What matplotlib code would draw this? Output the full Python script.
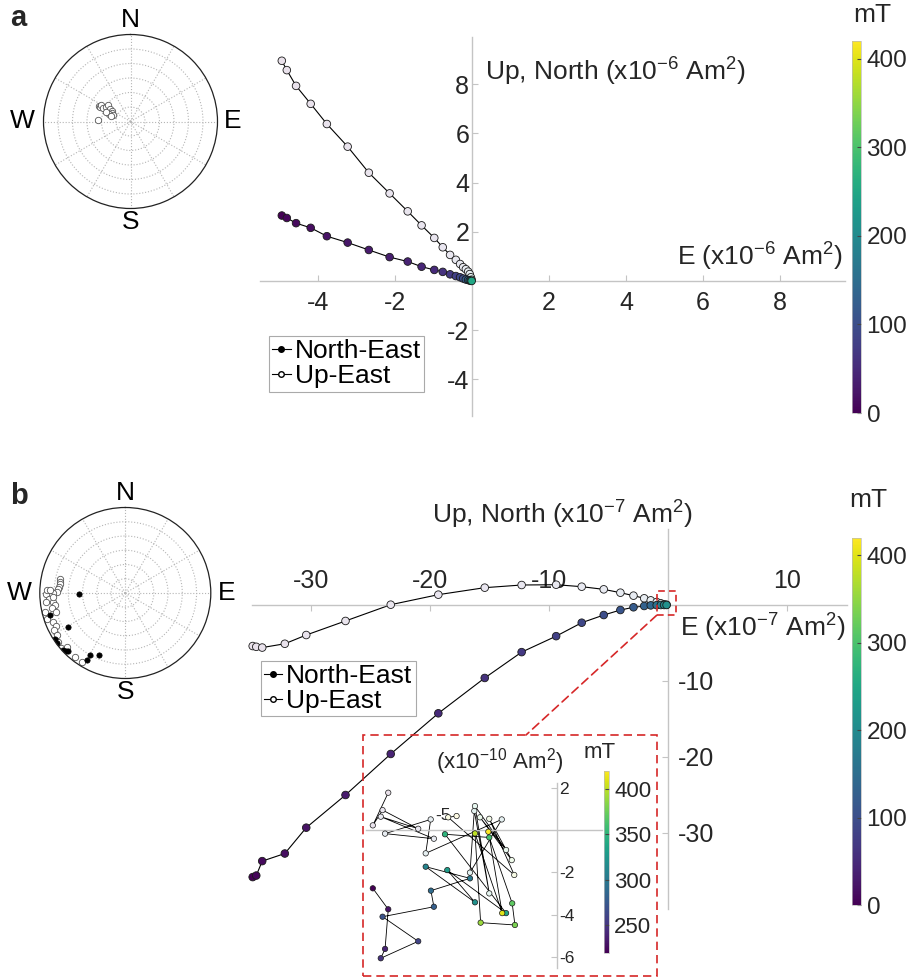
import numpy as np
import matplotlib
matplotlib.use("Agg")
import matplotlib.pyplot as plt
from matplotlib.cm import ScalarMappable
from matplotlib.colors import Normalize
from matplotlib.lines import Line2D
from matplotlib.patches import Rectangle, ConnectionPatch

plt.rcParams["font.family"] = ["Liberation Sans", "DejaVu Sans"]
plt.rcParams["axes.unicode_minus"] = False
plt.rcParams["mathtext.fontset"] = "custom"
plt.rcParams["mathtext.rm"] = "Liberation Sans"
plt.rcParams["mathtext.it"] = "Liberation Sans:italic"
plt.rcParams["mathtext.bf"] = "Liberation Sans:bold"

# ---- panel a: AF steps (mT) and vector end points (x1e-6 Am2)
a_field = [0, 5, 10, 15, 20, 25, 30, 35, 40, 45, 50, 60, 70, 80, 90, 100, 120, 140, 160, 200, 250]
a_east = [-4.94, -4.81, -4.57, -4.19, -3.77, -3.23, -2.68, -2.14, -1.67, -1.31, -0.98,
          -0.76, -0.57, -0.42, -0.31, -0.23, -0.16, -0.10, -0.06, -0.03, -0.01]
a_north = [2.66, 2.56, 2.35, 2.16, 1.82, 1.56, 1.26, 0.97, 0.79, 0.58, 0.45,
           0.37, 0.27, 0.20, 0.15, 0.10, 0.06, 0.04, 0.02, 0.01, 0.0]
a_up = [8.95, 8.57, 7.93, 7.20, 6.38, 5.46, 4.40, 3.56, 2.83, 2.26, 1.75,
        1.37, 1.06, 0.86, 0.69, 0.56, 0.48, 0.38, 0.28, 0.15, 0.05]

# panel a stereonet (declination, inclination; negative = upper hemisphere)
a_dec = [296, 295, 299, 296, 301, 307, 301, 301, 294, 290, 292, 291, 286, 272]
a_inc = [-53.5, -55, -54.8, -58.6, -60.1, -61.2, -65.1, -68.1, -68.5, -66.5, -62.5, -70.8, -68.8, -56]

# ---- panel b (x1e-7 Am2)
b_field = [0, 5, 10, 15, 20, 30, 40, 50, 60, 70, 80, 90, 100, 110, 120, 130, 140, 160, 180, 200, 210]
b_east = [-34.9, -34.6, -34.1, -32.2, -30.4, -27.1, -23.3, -19.3, -15.4, -12.3, -9.4,
          -7.25, -5.4, -4.0, -2.9, -2.0, -1.45, -0.95, -0.6, -0.33, -0.12]
b_north = [-35.8, -35.6, -33.7, -32.7, -29.3, -25.0, -19.6, -14.25, -9.6, -6.2, -4.1,
           -2.33, -1.32, -0.66, -0.3, -0.13, -0.05, -0.02, 0.0, 0.0, 0.0]
b_up = [-5.4, -5.5, -5.6, -5.1, -3.95, -2.1, 0.04, 1.36, 2.28, 2.63, 2.67,
        2.41, 2.06, 1.62, 1.23, 0.88, 0.61, 0.39, 0.22, 0.10, 0.03]

# panel b stereonet
b_dec_down = [268.8, 253.7, 239, 236.8, 234, 227.4, 226, 224.5, 209.7, 209.6, 202.7]
b_inc_down = [40.8, 7.2, 19.8, 1.4, 0.5, 1.2, 2.5, 4.2, 14.7, 8.8, 18.8]
b_dec_up = [282.1, 279.8, 277.6, 275.2, 273.1, 271.1, 269.7, 268, 269.3, 265.5, 263.7, 263.1,
            260.3, 258.7, 256.5, 251.6, 248.3, 244.6, 242.4, 238.5, 234, 229.8, 227.5, 218.3,
            212.2, 255, 272.2, 272.3, 267.1]
b_inc_up = [-19.5, -20.1, -20.5, -20.1, -19.2, -17.6, -14.1, -10.5, -7, -9.6, -6.5, -13.5,
            -14.8, -10.8, -2.8, -3.3, -8.3, -9.8, -5.1, -5.1, -2.7, -0.7, -6.1, -4.4,
            -3.6, -14.3, -7, -10.5, -14]

# ---- inset of panel b: 220-420 mT (x1e-10 Am2)
c_field = [220, 230, 240, 250, 260, 270, 280, 290, 300, 310, 320,
           330, 340, 350, 360, 370, 380, 390, 400, 410, 420]
c_ne_east = [-8.1, -7.42, -7.56, -7.75, -6.1, -7.67, -5.41, -5.54, -3.82, -5.77, -3.6,
             -4.82, -2.23, -4.92, -2.97, -1.96, -1.84, -3.35, -3.6, -2.4, -3.01]
c_ne_north = [-2.75, -3.74, -5.61, -6.05, -5.25, -4.09, -3.62, -2.86, -2.28, -1.73, -3.41,
              -1.89, -3.92, -0.2, -0.35, -3.46, -4.48, -4.37, -0.16, -3.92, -0.08]
c_ue_east = [-7.42, -8.1, -7.67, -6.1, -7.75, -5.41, -7.56, -5.55, -5.77, -2.42, -3.82,
             -3.63, -2.97, -3.6, -2.23, -3.38, -1.98, -2.97, -1.87, -4.78, -4.41]
c_ue_up = [1.76, 0.22, 0.94, 0.06, 0.63, -0.41, -0.17, 0.5, -1.1, 0.5, -2.01,
           0.9, -2.99, 1.13, -0.94, 0.6, -1.42, 0.53, -2.12, 0.6, 0.66]

W, H = 915, 977
GRAY = "#c4c4c4"
TXT = "#262626"
RED = "#d62728"
cmap = plt.get_cmap("viridis")


def box(x0, y0, x1, y1):
    return [x0 / W, 1 - y1 / H, (x1 - x0) / W, (y1 - y0) / H]


def ftext(x, y, s, **kw):
    fig.text(x / W, 1 - y / H, s, color=TXT, **kw)


def pale(field, norm):
    c = cmap(norm(np.asarray(field, dtype=float)))
    c[:, :3] = 0.88 + 0.12 * c[:, :3]
    return c


def cross_axes(ax, xside, yside, xpad, ypad, size):
    for s in ax.spines.values():
        s.set_visible(False)
    for name in (xside, yside):
        sp = ax.spines[name]
        sp.set_visible(True)
        sp.set_position(("data", 0))
        sp.set_color(GRAY)
        sp.set_linewidth(1.0)
    ax.xaxis.set_ticks_position(xside)
    ax.yaxis.set_ticks_position(yside)
    ax.tick_params(axis="x", direction="in", length=4, color=GRAY,
                   labelcolor=TXT, labelsize=size, pad=xpad)
    ax.tick_params(axis="y", direction="in", length=4, color=GRAY,
                   labelcolor=TXT, labelsize=size, pad=ypad)
    ax.patch.set_alpha(0)


def zijder(ax, east, north, up, field, norm, s, lw):
    ax.plot(east, up, color="k", lw=lw, zorder=2, clip_on=False)
    ax.plot(east, north, color="k", lw=lw, zorder=2, clip_on=False)
    ax.scatter(east, up, s=s, c=pale(field, norm), edgecolors="#1a1a1a",
               linewidths=0.6, zorder=3, clip_on=False)
    ax.scatter(east, north, s=s, c=field, cmap=cmap, norm=norm,
               edgecolors="#1a1a1a", linewidths=0.6, zorder=3, clip_on=False)


def stereonet(rect, dec_list, inc_list, filled):
    ax = fig.add_axes(rect, projection="polar")
    ax.set_theta_zero_location("N")
    ax.set_theta_direction(-1)
    ax.set_ylim(0, 90)
    ax.set_yticks([15, 30, 45, 60, 75])
    ax.set_yticklabels([])
    ax.set_xticks(np.deg2rad(np.arange(0, 360, 30)))
    ax.set_xticklabels([])
    ax.grid(True, color="#b5b5b5", linestyle=":", linewidth=0.8)
    ax.spines["polar"].set_color("#222222")
    ax.spines["polar"].set_linewidth(0.9)
    for dec, inc, fill in zip(dec_list, inc_list, filled):
        th = np.deg2rad(np.asarray(dec))
        r = 90 - np.abs(np.asarray(inc))
        if fill:
            ax.plot(th, r, "o", ms=3.8, mfc="k", mec="k", mew=0.5, ls="none")
        else:
            ax.plot(th, r, "o", ms=4.6, mfc="white", mec="#555555", mew=0.6, ls="none")
    kw = dict(transform=ax.transAxes, fontsize=19, color="k", ha="center", va="center")
    ax.text(0.5, 1.085, "N", **kw)
    ax.text(0.5, -0.08, "S", **kw)
    ax.text(-0.12, 0.5, "W", **kw)
    ax.text(1.09, 0.5, "E", **kw)
    return ax


def colorbar(rect, norm, ticks, size):
    cax = fig.add_axes(rect)
    cb = fig.colorbar(ScalarMappable(norm=norm, cmap=cmap), cax=cax)
    cb.set_ticks(ticks)
    cb.outline.set_edgecolor("#bbbbbb")
    cb.outline.set_linewidth(0.5)
    cax.tick_params(labelsize=size, length=3, direction="in", color="#444444",
                    labelcolor=TXT, pad=4)
    return cb


def legend(ax, x, y):
    handles = [Line2D([], [], color="k", lw=0.8, marker="o", ms=4, mfc="k", mec="k"),
               Line2D([], [], color="k", lw=0.8, marker="o", ms=4, mfc="white", mec="k")]
    leg = ax.legend(handles, ["North-East", "Up-East"], loc="upper left",
                    bbox_to_anchor=(x / W, 1 - y / H), bbox_transform=fig.transFigure,
                    borderaxespad=0, fontsize=19, handlelength=0.7, handletextpad=0.15,
                    borderpad=0.12, labelspacing=0.05, fancybox=False, framealpha=1)
    leg.get_frame().set_edgecolor("#aaaaaa")
    leg.get_frame().set_linewidth(0.8)


fig = plt.figure(figsize=(W / 100, H / 100), dpi=100)
norm_main = Normalize(0, 420)
norm_inset = Normalize(220, 420)

# ---------- panel a
axa = fig.add_axes(box(260.25, 37.4, 845.5, 416.3))
cross_axes(axa, "bottom", "left", 7, 2, 18)
axa.set_xlim(-5.5, 9.7)
axa.set_ylim(-5.5, 9.9)
axa.set_xticks([-4, -2, 2, 4, 6, 8])
axa.set_yticks([-4, -2, 2, 4, 6, 8])
zijder(axa, a_east, a_north, a_up, a_field, norm_main, 30, 0.8)
legend(axa, 269, 336)
ftext(485, 72, "Up, North (x10$^{-6}$ Am$^{2}$)", fontsize=19, ha="left", va="center")
ftext(677, 257, "E (x10$^{-6}$ Am$^{2}$)", fontsize=19, ha="left", va="center")
colorbar(box(852, 41, 861, 413), norm_main, [0, 100, 200, 300, 400], 17.5)
ftext(872, 15, "mT", fontsize=19, ha="center", va="center")
stereonet(box(43.5, 34.5, 217.5, 208.5), [a_dec], [a_inc], [False])
ftext(10, 18, "a", fontsize=21, fontweight="bold", ha="left", va="center")

# ---------- panel b
axb = fig.add_axes(box(251.5, 529, 846.5, 909))
cross_axes(axb, "top", "right", 9, 7, 18)
axb.set_xlim(-35, 15)
axb.set_ylim(-40, 10)
axb.set_xticks([-30, -20, -10, 10])
axb.set_yticks([-30, -20, -10])
zijder(axb, b_east, b_north, b_up, b_field, norm_main, 30, 0.8)
legend(axb, 260.7, 660.7)
ftext(432, 515, "Up, North (x10$^{-7}$ Am$^{2}$)", fontsize=19, ha="left", va="center")
ftext(680, 628, "E (x10$^{-7}$ Am$^{2}$)", fontsize=19, ha="left", va="center")
colorbar(box(852, 538, 861, 905), norm_main, [0, 100, 200, 300, 400], 17.5)
ftext(868, 500, "mT", fontsize=19, ha="center", va="center")
stereonet(box(39.8, 507.5, 210.8, 678.5), [b_dec_up, b_dec_down],
          [b_inc_up, b_inc_down], [False, True])
ftext(10, 496, "b", fontsize=21, fontweight="bold", ha="left", va="center")

# zoom marker and connector
axb.add_patch(Rectangle((-0.95, -1.35), 1.6, 3.2, fill=False, ec=RED, lw=1.2,
                        ls=(0, (4, 2.5)), clip_on=False, zorder=5))
con = ConnectionPatch(xyA=(-0.95, -1.35), coordsA="data", axesA=axb,
                      xyB=(526 / W, 1 - 735 / H), coordsB="figure fraction",
                      color=RED, lw=1.2, ls=(0, (5, 3)))
fig.add_artist(con)
fig.add_artist(Rectangle((363 / W, 1 - 976 / H), (657 - 363) / W, (976 - 735) / H,
                         transform=fig.transFigure, fill=False, ec=RED, lw=1.2,
                         ls=(0, (5, 3))))

# ---------- inset
axi = fig.add_axes(box(366, 783.4, 602.1, 967.8))
cross_axes(axi, "top", "right", 5, 2, 12.5)
axi.set_xlim(-8.4, 2.0)
axi.set_ylim(-6.5, 2.2)
axi.set_xticks([-5])
axi.set_yticks([-6, -4, -2, 2])
axi.plot(c_ue_east, c_ue_up, color="k", lw=0.6, zorder=2)
axi.plot(c_ne_east, c_ne_north, color="k", lw=0.6, zorder=2)
axi.scatter(c_ue_east, c_ue_up, s=15, c=pale(c_field, norm_inset), edgecolors="#1a1a1a",
            linewidths=0.5, zorder=3)
axi.scatter(c_ne_east, c_ne_north, s=15, c=c_field, cmap=cmap, norm=norm_inset,
            edgecolors="#1a1a1a", linewidths=0.5, zorder=3)
ftext(500, 762, "(x10$^{-10}$ Am$^{2}$)", fontsize=16, ha="center", va="center")
colorbar(box(604.3, 770.7, 608.7, 952.7), norm_inset, [250, 300, 350, 400], 16)
ftext(600, 753, "mT", fontsize=16, ha="center", va="center")

fig.savefig("out.png", dpi=100)
